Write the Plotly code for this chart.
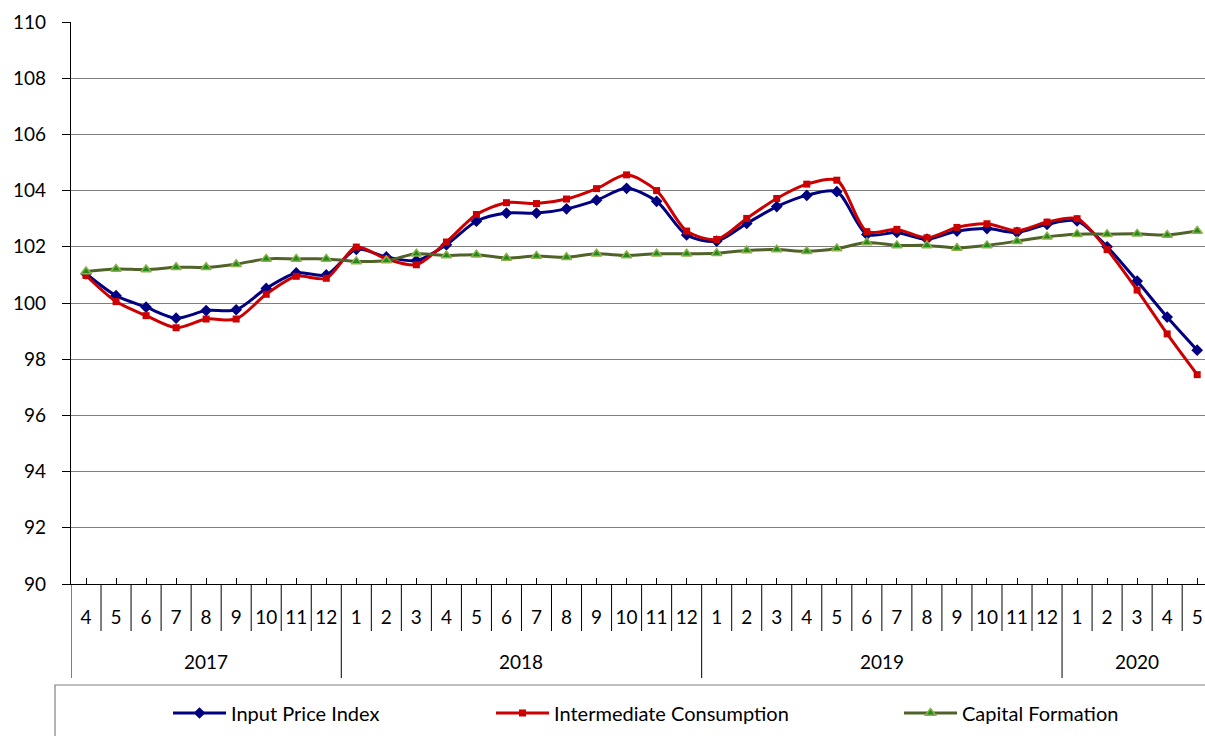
import plotly.graph_objects as go

# ---- data ----
years = [2017] * 9 + [2018] * 12 + [2019] * 12 + [2020] * 5
months = list(range(4, 13)) + list(range(1, 13)) + list(range(1, 13)) + list(range(1, 6))

input_price_index = [101.04, 100.26, 99.85, 99.46, 99.73, 99.76, 100.52, 101.07, 101.00,
                     101.91, 101.64, 101.51, 102.07, 102.91, 103.20, 103.20, 103.35, 103.66, 104.08, 103.62, 102.42,
                     102.20, 102.83, 103.43, 103.83, 103.96, 102.44, 102.51, 102.27, 102.56, 102.65, 102.51, 102.80,
                     102.92, 102.00, 100.78, 99.50, 98.32]
intermediate_consumption = [100.98, 100.05, 99.55, 99.12, 99.43, 99.43, 100.31, 100.95, 100.88,
                            101.99, 101.57, 101.36, 102.17, 103.15, 103.57, 103.54, 103.70, 104.07, 104.56, 104.00, 102.56,
                            102.26, 103.01, 103.72, 104.23, 104.37, 102.54, 102.62, 102.32, 102.69, 102.82, 102.57, 102.88,
                            103.00, 101.90, 100.46, 98.90, 97.45]
capital_formation = [101.12, 101.21, 101.19, 101.27, 101.27, 101.38, 101.57, 101.57, 101.57,
                     101.48, 101.51, 101.75, 101.69, 101.72, 101.60, 101.67, 101.63, 101.75, 101.69, 101.75, 101.75,
                     101.77, 101.87, 101.90, 101.84, 101.94, 102.15, 102.05, 102.05, 101.96, 102.05, 102.20, 102.36,
                     102.45, 102.45, 102.46, 102.42, 102.56]

series_names = ["Input Price Index", "Intermediate Consumption", "Capital Formation"]
y_ticks = list(range(90, 111, 2))

FONT = "Lato, 'Open Sans', sans-serif"
x = list(range(len(months)))

fig = go.Figure()
fig.add_trace(go.Scatter(
    x=x, y=input_price_index, name=series_names[0], mode="lines+markers",
    line=dict(color="#000080", width=3, shape="spline", smoothing=0.8),
    marker=dict(symbol="diamond", size=9, color="#000080"),
    legend="legend"))
fig.add_trace(go.Scatter(
    x=x, y=intermediate_consumption, name=series_names[1], mode="lines+markers",
    line=dict(color="#CC0000", width=3, shape="spline", smoothing=0.8),
    marker=dict(symbol="square", size=7, color="#CC0000"),
    legend="legend2"))
fig.add_trace(go.Scatter(
    x=x, y=capital_formation, name=series_names[2], mode="lines+markers",
    line=dict(color="#4F6228", width=3, shape="spline", smoothing=0.8),
    marker=dict(symbol="triangle-up", size=9, color="#1E8C1E",
                line=dict(color="#8DB04A", width=1.5)),
    legend="legend3"))

# plot-area geometry in page pixels
PAGE_W, PAGE_H = 1205, 736
PLOT_LEFT, PLOT_TOP, PLOT_BOTTOM = 71, 22, 584
PW = PAGE_W - PLOT_LEFT
PH = PLOT_BOTTOM - PLOT_TOP

def py(pix):
    return (PLOT_BOTTOM - pix) / PH

def px(pix):
    return (pix - PLOT_LEFT) / PW

shapes = []
n = len(months)
for i in range(n + 1):
    b = i - 0.5
    is_year = (i == 0) or (i == n) or (years[i] != years[i - 1])
    shapes.append(dict(type="line", xref="x", yref="paper", x0=b, x1=b,
                       y0=0, y1=py(678 if is_year else 631),
                       line=dict(color="#000000", width=1)))
# legend box
shapes.append(dict(type="rect", xref="paper", yref="paper",
                   x0=px(55), x1=1.05, y0=py(685), y1=py(760),
                   line=dict(color="#808080", width=1.2), fillcolor="rgba(0,0,0,0)"))

annotations = []
for yr in sorted(set(years)):
    idx = [i for i, v in enumerate(years) if v == yr]
    c = (idx[0] + idx[-1]) / 2
    annotations.append(dict(x=c, y=py(661), xref="x", yref="paper", text=str(yr),
                            showarrow=False, font=dict(family=FONT, size=19, color="#000000"),
                            xanchor="center", yanchor="middle"))

leg_common = dict(orientation="h", yanchor="middle", xanchor="left", itemwidth=53,
                  font=dict(family=FONT, size=20, color="#000000"),
                  bgcolor="rgba(0,0,0,0)", borderwidth=0, itemclick=False)
ly = py(713)
fig.update_layout(
    width=PAGE_W, height=PAGE_H,
    margin=dict(l=PLOT_LEFT, r=0, t=PLOT_TOP, b=PAGE_H - PLOT_BOTTOM, pad=0),
    paper_bgcolor="white", plot_bgcolor="white",
    font=dict(family=FONT, size=19, color="#000000"),
    showlegend=True,
    legend=dict(x=px(168), y=ly, **leg_common),
    legend2=dict(x=px(491), y=ly, **leg_common),
    legend3=dict(x=px(899), y=ly, **leg_common),
    shapes=shapes,
    annotations=annotations,
    hovermode=False,
)
fig.update_xaxes(
    range=[-0.5, 37.26], tickmode="array", tickvals=x, ticktext=[str(m) for m in months],
    ticks="inside", ticklen=6, tickcolor="#000000", showgrid=False, zeroline=False,
    showline=True, linecolor="#000000", linewidth=1.3, ticklabelstandoff=16,
    tickfont=dict(family=FONT, size=19, color="#000000"), tickangle=0,
)
fig.update_yaxes(
    range=[90, 110], tickmode="array", tickvals=y_ticks, ticktext=[str(v) for v in y_ticks],
    ticks="outside", ticklen=8, tickcolor="#000000", showgrid=True, gridcolor="#7f7f7f",
    gridwidth=1, zeroline=False, showline=True, linecolor="#000000", linewidth=1.3,
    ticklabelstandoff=12, tickfont=dict(family=FONT, size=19, color="#000000"),
)

fig.write_html("out.html",
               config={"displayModeBar": False},
               post_script="document.body.style.margin='0px';document.body.style.overflow='hidden';")
